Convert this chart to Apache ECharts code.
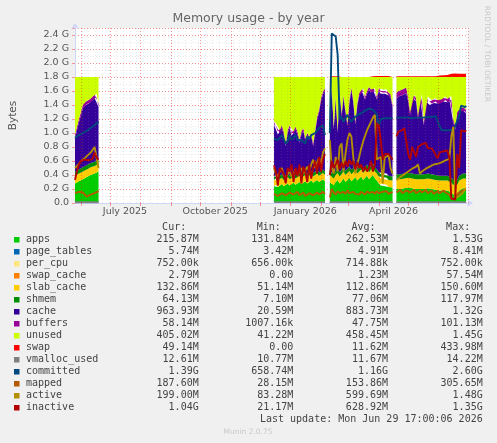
<!DOCTYPE html>
<html>
<head>
<meta charset="utf-8">
<script src="https://cdn.jsdelivr.net/npm/echarts@6/dist/echarts.min.js"></script>
<style>
html, body { margin: 0; padding: 0; background: #f0f0f0; }
#chart { width: 497px; height: 443px; }
</style>
</head>
<body>
<div id="chart"></div>
<script>
const DAY = 86400000;
const START = new Date(2025, 4, 26).getTime(); // left edge of the year graph (day 0)
const SPAN_DAYS = 401;

// day offsets from START; a lone day between segments is a gap (no data)
const days = [
  0, 2, 4, 6, 8, 10, 12, 14, 16, 18, 20, 22, 24,
  25,
  203, 205, 207, 209, 211, 213, 215, 217, 219, 221, 223, 225, 227, 229, 231, 233, 235, 237, 239, 241, 243, 245, 247, 249, 251, 253, 255,
  257,
  260, 262, 264, 266, 268, 270, 272, 274, 276, 278, 280, 282, 284, 286, 288, 290, 292, 294, 296, 298, 300, 302, 304, 306, 308, 310, 312, 314, 316, 318, 320, 322, 324,
  326,
  328, 330, 332, 334, 336, 338, 340, 342, 344, 346, 348, 350, 352, 354, 356, 358, 360, 362, 364, 366, 368, 370, 372, 374, 376, 378, 380, 382, 384, 386, 388, 390, 392, 394, 396, 398, 399
];

// stacked areas (G)
const apps = [
  0.28, 0.29, 0.31, 0.32, 0.34, 0.35, 0.37, 0.38, 0.40, 0.41, 0.42, 0.44, 0.45,
  null,
  0.24, 0.26, 0.23, 0.25, 0.27, 0.24, 0.26, 0.28, 0.25, 0.27, 0.29, 0.26, 0.28, 0.30, 0.27, 0.29, 0.31, 0.28, 0.30, 0.32, 0.29, 0.31, 0.33, 0.30, 0.32, 0.34, 0.31,
  null,
  0.30, 0.27, 0.25, 0.30, 0.33, 0.28, 0.31, 0.35, 0.30, 0.33, 0.36, 0.31, 0.34, 0.37, 0.32, 0.35, 0.38, 0.33, 0.36, 0.39, 0.34, 0.37, 0.40, 0.35, 0.32, 0.28, 0.25, 0.27, 0.24, 0.26, 0.23, 0.24, 0.22,
  null,
  0.20, 0.21, 0.20, 0.19, 0.21, 0.20, 0.22, 0.20, 0.21, 0.19, 0.20, 0.21, 0.20, 0.22, 0.20, 0.19, 0.21, 0.20, 0.20, 0.21, 0.19, 0.20, 0.18, 0.19, 0.18, 0.19, 0.18, 0.17, 0.15, 0.12, 0.10, 0.12, 0.18, 0.20, 0.21, 0.21, 0.21
];
const slabCache = [
  0.11, 0.11, 0.11, 0.11, 0.11, 0.11, 0.11, 0.11, 0.11, 0.11, 0.11, 0.11, 0.11,
  null,
  0.09, 0.09, 0.09, 0.09, 0.09, 0.09, 0.09, 0.09, 0.09, 0.09, 0.09, 0.09, 0.09, 0.09, 0.09, 0.09, 0.09, 0.09, 0.09, 0.09, 0.09, 0.09, 0.09, 0.09, 0.09, 0.09, 0.09,
  null,
  0.10, 0.10, 0.10, 0.10, 0.10, 0.10, 0.10, 0.10, 0.10, 0.10, 0.10, 0.10, 0.10, 0.10, 0.10, 0.10, 0.10, 0.10, 0.10, 0.10, 0.10, 0.10, 0.10, 0.10, 0.10, 0.10, 0.10, 0.10, 0.10, 0.10, 0.10, 0.10, 0.10,
  null,
  0.14, 0.14, 0.14, 0.14, 0.14, 0.14, 0.14, 0.14, 0.14, 0.14, 0.14, 0.14, 0.14, 0.14, 0.14, 0.14, 0.14, 0.14, 0.14, 0.14, 0.14, 0.14, 0.14, 0.14, 0.14, 0.14, 0.14, 0.14, 0.14, 0.14, 0.14, 0.14, 0.14, 0.14, 0.14, 0.14, 0.14
];
const shmem = [
  0.06, 0.06, 0.06, 0.06, 0.06, 0.06, 0.06, 0.06, 0.06, 0.06, 0.06, 0.06, 0.06,
  null,
  0.05, 0.05, 0.05, 0.05, 0.05, 0.05, 0.05, 0.05, 0.05, 0.05, 0.05, 0.05, 0.05, 0.05, 0.05, 0.05, 0.05, 0.05, 0.05, 0.05, 0.05, 0.05, 0.05, 0.05, 0.05, 0.05, 0.05,
  null,
  0.06, 0.06, 0.06, 0.06, 0.06, 0.06, 0.06, 0.06, 0.06, 0.06, 0.06, 0.06, 0.06, 0.06, 0.06, 0.06, 0.06, 0.06, 0.06, 0.06, 0.06, 0.06, 0.06, 0.06, 0.06, 0.06, 0.06, 0.06, 0.06, 0.06, 0.06, 0.06, 0.06,
  null,
  0.07, 0.07, 0.07, 0.07, 0.07, 0.07, 0.07, 0.07, 0.07, 0.07, 0.07, 0.07, 0.07, 0.07, 0.07, 0.07, 0.07, 0.07, 0.07, 0.07, 0.07, 0.07, 0.07, 0.07, 0.07, 0.07, 0.07, 0.07, 0.07, 0.07, 0.07, 0.07, 0.07, 0.07, 0.07, 0.07, 0.07
];
const cache = [
  0.47, 0.58, 0.67, 0.76, 0.84, 0.87, 0.87, 0.87, 0.87, 0.89, 0.91, 0.90, 0.75,
  null,
  0.74, 0.70, 0.61, 0.61, 0.66, 0.60, 0.41, 0.58, 0.68, 0.55, 0.55, 0.65, 0.56, 0.42, 0.57, 0.60, 0.43, 0.54, 0.47, 0.50, 0.38, 0.55, 0.72, 0.85, 1.00, 1.07, 1.15,
  null,
  0.80, 1.19, 0.64, 1.02, 0.51, 1.13, 0.77, 0.99, 0.83, 0.61, 0.91, 1.14, 0.93, 0.59, 0.90, 1.02, 1.08, 1.11, 0.96, 1.01, 1.12, 1.05, 1.06, 1.09, 1.00, 1.16, 1.15, 1.15, 1.16, 1.16, 1.15, 1.11, 0.98,
  null,
  1.08, 1.10, 1.11, 1.14, 1.13, 1.16, 1.02, 0.84, 1.09, 1.10, 1.04, 0.78, 1.09, 1.08, 0.70, 1.05, 1.05, 0.99, 1.01, 1.01, 1.05, 1.01, 1.06, 1.03, 1.06, 1.07, 1.05, 1.09, 1.12, 0.82, 0.74, 0.92, 0.93, 0.90, 0.90, 0.89, 0.86
];
const buffers = [
  0.05, 0.05, 0.05, 0.05, 0.05, 0.05, 0.05, 0.05, 0.05, 0.05, 0.05, 0.05, 0.05,
  null,
  0.04, 0.04, 0.04, 0.04, 0.04, 0.04, 0.04, 0.04, 0.04, 0.04, 0.04, 0.04, 0.04, 0.04, 0.04, 0.04, 0.04, 0.04, 0.04, 0.04, 0.04, 0.04, 0.04, 0.04, 0.04, 0.04, 0.04,
  null,
  0.04, 0.04, 0.04, 0.04, 0.04, 0.04, 0.04, 0.04, 0.04, 0.04, 0.04, 0.04, 0.04, 0.04, 0.04, 0.04, 0.04, 0.04, 0.04, 0.04, 0.04, 0.04, 0.04, 0.04, 0.04, 0.04, 0.04, 0.04, 0.04, 0.04, 0.04, 0.04, 0.04,
  null,
  0.08, 0.08, 0.08, 0.08, 0.08, 0.08, 0.05, 0.05, 0.05, 0.05, 0.05, 0.05, 0.05, 0.05, 0.05, 0.05, 0.05, 0.05, 0.05, 0.05, 0.05, 0.05, 0.05, 0.05, 0.05, 0.05, 0.05, 0.05, 0.05, 0.05, 0.05, 0.05, 0.05, 0.05, 0.05, 0.05, 0.05
];
const unused = [
  0.83, 0.71, 0.60, 0.50, 0.40, 0.36, 0.34, 0.33, 0.31, 0.28, 0.25, 0.24, 0.38,
  null,
  0.64, 0.66, 0.78, 0.76, 0.69, 0.78, 0.95, 0.76, 0.69, 0.80, 0.78, 0.71, 0.78, 0.90, 0.78, 0.73, 0.88, 0.80, 0.85, 0.80, 0.95, 0.76, 0.57, 0.47, 0.30, 0.21, 0.16,
  null,
  0.50, 0.14, 0.71, 0.28, 0.76, 0.19, 0.52, 0.26, 0.47, 0.66, 0.33, 0.15, 0.33, 0.64, 0.38, 0.23, 0.14, 0.16, 0.28, 0.20, 0.14, 0.18, 0.14, 0.16, 0.28, 0.16, 0.20, 0.18, 0.20, 0.18, 0.22, 0.25, 0.40,
  null,
  0.23, 0.20, 0.20, 0.18, 0.17, 0.15, 0.30, 0.50, 0.24, 0.25, 0.30, 0.55, 0.25, 0.24, 0.64, 0.30, 0.28, 0.35, 0.33, 0.32, 0.30, 0.33, 0.30, 0.32, 0.30, 0.28, 0.31, 0.28, 0.27, 0.60, 0.70, 0.50, 0.43, 0.44, 0.43, 0.44, 0.47
];
const swap = [
  0, 0, 0, 0, 0, 0, 0, 0, 0, 0, 0, 0.01, 0.01,
  null,
  0, 0, 0, 0, 0, 0, 0, 0, 0, 0, 0, 0, 0, 0, 0, 0, 0, 0, 0, 0, 0, 0, 0, 0, 0, 0, 0,
  null,
  0.01, 0.01, 0.01, 0, 0.01, 0.01, 0, 0, 0, 0, 0, 0, 0, 0, 0, 0, 0, 0, 0, 0, 0, 0, 0.01, 0.015, 0.015, 0.015, 0.015, 0.015, 0.015, 0.015, 0.015, 0.015, 0.01,
  null,
  0.01, 0.01, 0.01, 0.01, 0.01, 0.01, 0.01, 0.01, 0.01, 0.01, 0.01, 0.01, 0.01, 0.01, 0.01, 0.01, 0.01, 0.01, 0.01, 0.01, 0.01, 0.015, 0.02, 0.02, 0.025, 0.025, 0.03, 0.04, 0.045, 0.05, 0.05, 0.045, 0.045, 0.04, 0.045, 0.045, 0.045
];

// lines (G)
const committed = [
  0.93, 0.95, 0.97, 0.99, 1.00, 1.01, 1.03, 1.05, 1.07, 1.09, 1.11, 1.13, 1.16,
  null,
  0.92, 0.92, 0.90, 0.91, 0.97, 0.95, 0.85, 0.88, 0.97, 0.90, 0.92, 0.97, 0.90, 0.88, 0.90, 0.92, 0.85, 0.95, 0.92, 0.97, 0.95, 1.00, 1.02, 1.07, 1.09, 1.11, 0.97,
  null,
  1.00, 2.42, 2.42, 2.38, 2.12, 1.20, 1.23, 1.16, 1.14, 1.26, 1.20, 1.16, 1.20, 1.23, 1.26, 1.26, 1.28, 1.30, 1.32, 1.33, 1.35, 1.36, 1.33, 1.30, 1.26, 1.09, 1.20, 1.21, 1.21, 1.21, 1.21, 1.21, 1.21,
  null,
  1.22, 1.22, 1.22, 1.23, 1.22, 1.22, 1.22, 1.22, 1.21, 1.22, 1.22, 1.22, 1.22, 1.22, 1.22, 1.22, 1.23, 1.23, 1.23, 1.24, 1.24, 1.24, 1.10, 1.04, 1.04, 1.04, 1.04, 1.04, 1.04, 1.05, 1.10, 1.12, 1.25, 1.39, 1.39, 1.37, 1.39
];
const mapped = [
  0.14, 0.15, 0.16, 0.16, 0.15, 0.16, 0.09, 0.10, 0.12, 0.13, 0.14, 0.16, 0.17,
  null,
  0.13, 0.15, 0.10, 0.12, 0.14, 0.16, 0.11, 0.13, 0.15, 0.17, 0.12, 0.14, 0.16, 0.11, 0.13, 0.15, 0.10, 0.12, 0.14, 0.16, 0.11, 0.13, 0.15, 0.12, 0.14, 0.16, 0.13,
  null,
  0.08, 0.20, 0.15, 0.12, 0.17, 0.14, 0.12, 0.16, 0.13, 0.18, 0.14, 0.12, 0.16, 0.13, 0.15, 0.12, 0.16, 0.14, 0.12, 0.17, 0.14, 0.12, 0.16, 0.13, 0.17, 0.14, 0.12, 0.16, 0.14, 0.17, 0.13, 0.15, 0.16,
  null,
  0.15, 0.17, 0.19, 0.14, 0.16, 0.18, 0.20, 0.15, 0.17, 0.19, 0.14, 0.16, 0.18, 0.15, 0.17, 0.19, 0.14, 0.16, 0.18, 0.13, 0.15, 0.17, 0.14, 0.16, 0.18, 0.15, 0.17, 0.12, 0.06, 0.06, 0.06, 0.12, 0.15, 0.17, 0.18, 0.19, 0.19
];
const active = [
  0.50, 0.53, 0.56, 0.60, 0.62, 0.64, 0.67, 0.69, 0.72, 0.76, 0.80, 0.78, 0.50,
  null,
  0.50, 0.42, 0.38, 0.45, 0.50, 0.40, 0.35, 0.42, 0.45, 0.38, 0.42, 0.48, 0.40, 0.45, 0.50, 0.42, 0.46, 0.52, 0.45, 0.55, 0.62, 0.50, 0.58, 0.65, 0.55, 0.72, 0.78,
  null,
  0.90, 0.50, 0.42, 0.66, 0.45, 0.80, 0.85, 0.45, 0.70, 0.90, 1.00, 0.95, 0.65, 0.42, 0.55, 0.66, 0.78, 0.88, 0.96, 1.04, 1.10, 1.16, 1.22, 1.26, 0.62, 0.60, 0.66, 0.28, 0.65, 0.66, 0.68, 0.50, 0.42,
  null,
  0.33, 0.35, 0.37, 0.39, 0.41, 0.43, 0.45, 0.47, 0.49, 0.50, 0.52, 0.55, 0.42, 0.45, 0.47, 0.49, 0.50, 0.52, 0.53, 0.55, 0.54, 0.56, 0.57, 0.58, 0.60, 0.61, 0.62, 0.63, 0.95, 1.09, 0.07, 0.08, 0.10, 0.12, 0.15, 0.20, 0.20
];
const inactive = [
  0.33, 0.45, 0.55, 0.60, 0.58, 0.62, 0.60, 0.61, 0.60, 0.63, 0.72, 0.65, 0.62,
  null,
  0.54, 0.45, 0.25, 0.50, 0.52, 0.42, 0.28, 0.50, 0.45, 0.55, 0.30, 0.50, 0.38, 0.55, 0.28, 0.52, 0.45, 0.30, 0.55, 0.35, 0.50, 0.60, 0.42, 0.66, 0.45, 0.62, 0.70,
  null,
  0.40, 0.60, 0.50, 0.55, 0.62, 0.48, 0.58, 0.50, 0.60, 0.52, 0.62, 0.55, 0.60, 0.48, 0.58, 0.50, 0.55, 0.45, 0.52, 0.45, 0.50, 0.60, 0.45, 0.55, 1.14, 1.10, 0.90, 0.62, 0.70, 0.72, 0.70, 0.66, 0.62,
  null,
  0.95, 1.02, 1.04, 1.04, 1.07, 1.05, 0.70, 0.62, 0.80, 0.78, 0.66, 0.80, 0.82, 0.84, 0.85, 0.86, 0.78, 0.80, 0.78, 0.74, 0.68, 0.64, 0.72, 0.73, 0.74, 0.73, 0.75, 0.65, 0.06, 0.05, 0.05, 0.70, 0.50, 1.04, 1.05, 1.02, 1.04
];
const vmallocDays = [0, 24, 25, 203, 255, 257, 260, 324, 326, 328, 399];
const vmalloc = [0.011, 0.011, null, 0.012, 0.012, null, 0.012, 0.012, null, 0.013, 0.013];

// month starts (major grid) and the quarterly labels, drawn mid-month like rrdtool
const monthStarts = ['2025-06-01', '2025-07-01', '2025-08-01', '2025-09-01', '2025-10-01', '2025-11-01', '2025-12-01',
                     '2026-01-01', '2026-02-01', '2026-03-01', '2026-04-01', '2026-05-01', '2026-06-01', '2026-07-01'];
const xLabelMonths = ['2025-07-01', '2025-10-01', '2026-01-01', '2026-04-01'];
const xLabelTexts = ['July 2025', 'October 2025', 'January 2026', 'April 2026'];

// legend table
const legendNames = ['apps', 'page_tables', 'per_cpu', 'swap_cache', 'slab_cache', 'shmem', 'cache', 'buffers', 'unused', 'swap', 'vmalloc_used', 'committed', 'mapped', 'active', 'inactive'];
const legendCur = ['215.87M', '5.74M', '752.00k', '2.79M', '132.86M', '64.13M', '963.93M', '58.14M', '405.02M', '49.14M', '12.61M', '1.39G', '187.60M', '199.00M', '1.04G'];
const legendMin = ['131.84M', '3.42M', '656.00k', '0.00', '51.14M', '7.10M', '20.59M', '1007.16k', '41.22M', '0.00', '10.77M', '658.74M', '28.15M', '83.28M', '21.17M'];
const legendAvg = ['262.53M', '4.91M', '714.88k', '1.23M', '112.86M', '77.06M', '883.73M', '47.75M', '458.45M', '11.62M', '11.67M', '1.16G', '153.86M', '599.69M', '628.92M'];
const legendMax = ['1.53G', '8.41M', '752.00k', '57.54M', '150.60M', '117.97M', '1.32G', '101.13M', '1.45G', '433.98M', '14.22M', '2.60G', '305.65M', '1.48G', '1.35G'];

const colors = {
    apps: '#00CC00', page_tables: '#0066B3', per_cpu: '#FFE680', swap_cache: '#FF8000',
    slab_cache: '#FFCC00', shmem: '#008F00', cache: '#330099', buffers: '#990099',
    unused: '#CCFF00', swap: '#FF0000', vmalloc_used: '#808080', committed: '#00487D',
    mapped: '#B35A00', active: '#B38F00', inactive: '#B30000'
};

const MGRID = 'rgba(255,0,0,0.38)';
const GRID = 'rgba(150,150,150,0.22)';
const AXIS = '#CFD6F8';

function dayOf(iso) {
    let p = iso.split('-');
    return Math.round((new Date(+p[0], +p[1] - 1, +p[2]).getTime() - START) / DAY);
}
const monthDays = monthStarts.map(dayOf);
const labelDays = xLabelMonths.map(s => dayOf(s) + 15);
// weekly minor grid (rrdtool WEEK:1), starting on the Monday at the left edge
const weekDays = [];
for (let d = 7; d < SPAN_DAYS; d += 7) weekDays.push(d);

function toPoints(dayList, vals) {
    return dayList.map((d, i) => [START + d * DAY, vals[i]]);
}

function area(name, vals) {
    return {
        name: name, type: 'line', stack: 'mem', data: toPoints(days, vals), z: 3,
        symbol: 'none', lineStyle: { width: 0 },
        areaStyle: { color: colors[name], opacity: 1 },
        itemStyle: { color: colors[name] }, silent: true
    };
}

function line(name, vals, dayList) {
    return {
        name: name, type: 'line', data: toPoints(dayList || days, vals), z: 4,
        symbol: 'none', lineStyle: { color: colors[name], width: 1.9 },
        itemStyle: { color: colors[name] }, silent: true
    };
}

function gridLines(name, dayList, color) {
    return {
        name: name, type: 'line', data: [], z: 1, silent: true,
        markLine: {
            silent: true, symbol: ['none', 'none'], label: { show: false }, animation: false,
            lineStyle: { color: color, type: [1, 2], width: 1 },
            data: dayList.map(d => ({ xAxis: START + d * DAY }))
        }
    };
}

// legend table as graphic text
let graphic = [];
const mono = '10px "DejaVu Sans Mono"';
const colRight = [198.7, 293.3, 388, 482.7];
['Cur:', 'Min:', 'Avg:', 'Max:'].forEach((h, i) => {
    graphic.push({ type: 'text', x: colRight[i] - 12.5, y: 227.7,
        style: { text: h, font: mono, fill: '#444', textAlign: 'right', textVerticalAlign: 'middle' } });
});
legendNames.forEach((n, k) => {
    let cy = 239.7 + 12 * k;
    graphic.push({ type: 'rect', shape: { x: 14, y: cy - 2.7, width: 5.5, height: 5.5 }, style: { fill: colors[n] } });
    graphic.push({ type: 'text', x: 26, y: cy,
        style: { text: n, font: mono, fill: '#444', textAlign: 'left', textVerticalAlign: 'middle' } });
    [legendCur, legendMin, legendAvg, legendMax].forEach((col, i) => {
        graphic.push({ type: 'text', x: colRight[i], y: cy,
            style: { text: col[k], font: mono, fill: '#444', textAlign: 'right', textVerticalAlign: 'middle' } });
    });
});
graphic.push({ type: 'text', x: 482.7, y: 419.3,
    style: { text: 'Last update: Mon Jun 29 17:00:06 2026', font: mono, fill: '#444', textAlign: 'right', textVerticalAlign: 'middle' } });
graphic.push({ type: 'text', x: 248, y: 432.3,
    style: { text: 'Munin 2.0.75', font: '7.5px "DejaVu Sans"', fill: '#c8c8c8', textAlign: 'center', textVerticalAlign: 'middle' } });
graphic.push({ type: 'text', x: 487, y: 54, rotation: -Math.PI / 2,
    style: { text: 'RRDTOOL / TOBI OETIKER', font: '7.5px "DejaVu Sans"', fill: '#c8c8c8', textAlign: 'center', textVerticalAlign: 'middle' } });

let chart = echarts.init(document.getElementById('chart'), null, { renderer: 'canvas' });
chart.setOption({
    animation: false,
    backgroundColor: '#f0f0f0',
    title: {
        text: 'Memory usage - by year',
        left: 'center', top: 12, padding: 0,
        textStyle: { fontFamily: 'DejaVu Sans', fontSize: 12.5, fontWeight: 'normal', color: '#666' }
    },
    grid: { left: 67, right: 29, top: 28, bottom: 240, show: true, backgroundColor: '#fff', borderWidth: 0 },
    xAxis: [
        {
            // data axis
            type: 'time', min: START, max: START + SPAN_DAYS * DAY, z: 2,
            axisLine: { lineStyle: { color: AXIS }, symbol: ['none', 'arrow'], symbolSize: [6, 6], symbolOffset: [0, 5] },
            axisTick: { show: false }, axisLabel: { show: false }, splitLine: { show: false }
        },
        {
            // same span in days: month ticks and quarterly labels
            type: 'value', min: 0, max: SPAN_DAYS, position: 'bottom', z: 2,
            axisLine: { show: false },
            axisTick: { show: true, length: 3, customValues: monthDays, lineStyle: { color: MGRID } },
            axisLabel: {
                customValues: labelDays, color: '#555', fontFamily: 'DejaVu Sans', fontSize: 9.5, margin: 4,
                formatter: v => { let i = labelDays.indexOf(Math.round(v)); return i >= 0 ? xLabelTexts[i] : ''; }
            },
            splitLine: { show: false }
        }
    ],
    yAxis: [
        {
            type: 'value', min: 0, max: 2.5, interval: 0.2, z: 2,
            name: 'Bytes', nameLocation: 'middle', nameGap: 56,
            nameTextStyle: { fontFamily: 'DejaVu Sans', fontSize: 10.5, color: '#555' },
            axisLine: { show: true, lineStyle: { color: AXIS }, symbol: ['none', 'arrow'], symbolSize: [6, 6], symbolOffset: [0, 5] },
            axisTick: { show: true, length: 3, lineStyle: { color: MGRID } },
            axisLabel: {
                color: '#555', fontFamily: 'DejaVu Sans', fontSize: 9.5, margin: 6,
                formatter: v => v === 0 ? '0.0' : (Math.abs(v - 2.5) < 1e-9 ? '' : v.toFixed(1) + ' G')
            },
            splitLine: { lineStyle: { color: MGRID, type: [1, 2], width: 1 } }
        },
        {
            type: 'value', min: 0, max: 2.5, interval: 0.1, z: 1,
            axisLine: { show: false }, axisTick: { show: false }, axisLabel: { show: false },
            splitLine: { lineStyle: { color: GRID, type: [1, 2], width: 1 } }
        }
    ],
    series: [
        gridLines('weeks', weekDays, GRID),
        gridLines('months', monthDays, MGRID),
        area('apps', apps),
        area('slab_cache', slabCache),
        area('shmem', shmem),
        area('cache', cache),
        area('buffers', buffers),
        area('unused', unused),
        area('swap', swap),
        line('vmalloc_used', vmalloc, vmallocDays),
        line('committed', committed),
        line('mapped', mapped),
        line('active', active),
        line('inactive', inactive)
    ],
    graphic: graphic
});
</script>
</body>
</html>
